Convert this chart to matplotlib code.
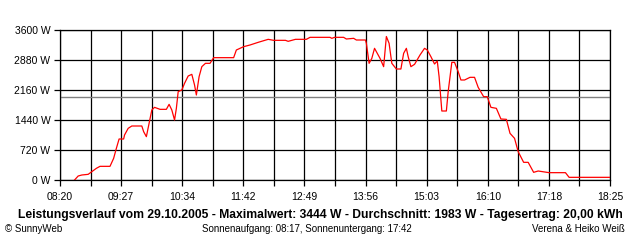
import matplotlib
matplotlib.use("Agg")
import matplotlib.pyplot as plt
import numpy as np

# --- data ---
times = ["08:36", "08:40", "08:44", "08:51", "08:55", "09:00", "09:04", "09:15", "09:19", "09:22",
         "09:25", "09:30", "09:31", "09:35", "09:39", "09:50", "09:52", "09:55", "09:58", "10:01",
         "10:04", "10:10", "10:17", "10:20", "10:23", "10:26", "10:28", "10:30", "10:34", "10:37",
         "10:41", "10:45", "10:48", "10:50", "10:53", "10:56", "11:00", "11:05", "11:09", "11:31",
         "11:34", "11:42", "11:49", "11:58", "12:09", "12:15", "12:28", "12:31", "12:39", "12:51",
         "12:55", "13:17", "13:19", "13:22", "13:32", "13:35", "13:43", "13:46", "13:56", "13:57",
         "13:58", "14:00", "14:03", "14:06", "14:12", "14:16", "14:19", "14:22", "14:25", "14:30",
         "14:35", "14:38", "14:41", "14:43", "14:46", "14:50", "14:56", "15:01", "15:04", "15:08",
         "15:12", "15:15", "15:17", "15:20", "15:25", "15:27", "15:31", "15:34", "15:38", "15:41",
         "15:45", "15:51", "15:56", "16:00", "16:06", "16:10", "16:14", "16:20", "16:25", "16:31",
         "16:35", "16:40", "16:44", "16:50", "16:55", "17:01", "17:06", "17:18", "17:36", "17:40",
         "18:25"]
watts = [0, 96, 120, 136, 200, 280, 328, 328, 520, 760,
         984, 984, 1080, 1240, 1296, 1296, 1160, 1040, 1360, 1680,
         1744, 1696, 1696, 1816, 1680, 1440, 1720, 2120, 2160, 2320,
         2496, 2536, 2280, 2040, 2480, 2720, 2800, 2800, 2936, 2936,
         3120, 3200, 3240, 3304, 3376, 3352, 3352, 3328, 3376, 3376,
         3424, 3424, 3400, 3424, 3424, 3384, 3400, 3360, 3360, 3280,
         3120, 2800, 2920, 3160, 2920, 2720, 3444, 3280, 2800, 2664,
         2664, 3040, 3160, 2960, 2720, 2776, 3000, 3160, 3120, 2960,
         2784, 2856, 2480, 1656, 1656, 2120, 2824, 2824, 2600, 2400,
         2400, 2464, 2464, 2224, 2000, 2000, 1744, 1720, 1464, 1456,
         1120, 1000, 680, 424, 424, 184, 216, 176, 176, 64,
         64]
average_w = 1983
x_labels = ["08:20", "09:27", "10:34", "11:42", "12:49", "13:56", "15:03", "16:10", "17:18", "18:25"]
y_values = [0, 720, 1440, 2160, 2880, 3600]
y_labels = ["0 W", "720 W", "1440 W", "2160 W", "2880 W", "3600 W"]
title = "Leistungsverlauf vom 29.10.2005 - Maximalwert: 3444 W - Durchschnitt: 1983 W - Tagesertrag: 20,00 kWh"
footer_left = "© SunnyWeb"
footer_mid = "Sonnenaufgang: 08:17, Sonnenuntergang: 17:42"
footer_right = "Verena & Heiko Weiß"


def to_min(s):
    h, m = s.split(":")
    return int(h) * 60 + int(m)


t = np.array([to_min(s) for s in times])
w = np.array(watts)

t0 = to_min(x_labels[0])
t1 = to_min(x_labels[-1])

plt.rcParams['font.family'] = ['Liberation Sans', 'DejaVu Sans']

fig = plt.figure(figsize=(6.4, 2.4), dpi=100)
ax = fig.add_axes([60 / 640, 1 - 180 / 240, 550 / 640, 150 / 240])

# grid lines: y every 720 W, x every half label interval
xt = np.linspace(t0, t1, 2 * (len(x_labels) - 1) + 1)
for v in y_values:
    ax.axhline(v, color="black", lw=0.9, zorder=1)
for v in xt:
    ax.axvline(v, color="black", lw=0.9, zorder=1)

ax.axhline(average_w, color="#808080", lw=1.0, zorder=2)
ax.plot(t, w, color="#ff0000", lw=0.9, zorder=3)

ax.set_xlim(t0, t1)
ax.set_ylim(0, 3600)
ax.set_xticks(xt)
ax.set_xticklabels([x_labels[i // 2] if i % 2 == 0 else "" for i in range(len(xt))])
ax.set_yticks(y_values)
ax.set_yticklabels(y_labels)
ax.tick_params(axis="both", direction="out", length=4, width=0.9, color="black",
               labelsize=7.5)
ax.tick_params(axis="x", pad=5)
ax.tick_params(axis="y", pad=3)
for sp in ax.spines.values():
    sp.set_linewidth(0.9)
    sp.set_color("black")

fig.text(0.5, 1 - 215 / 240, title, ha="center", va="center", fontsize=8.75, fontweight="bold")
fig.text(5 / 640, 1 - 229 / 240, footer_left, ha="left", va="center", fontsize=7)
fig.text(307 / 640, 1 - 229 / 240, footer_mid, ha="center", va="center", fontsize=7)
fig.text(625 / 640, 1 - 229 / 240, footer_right, ha="right", va="center", fontsize=7)

fig.savefig("out.png", dpi=100, facecolor="white")
